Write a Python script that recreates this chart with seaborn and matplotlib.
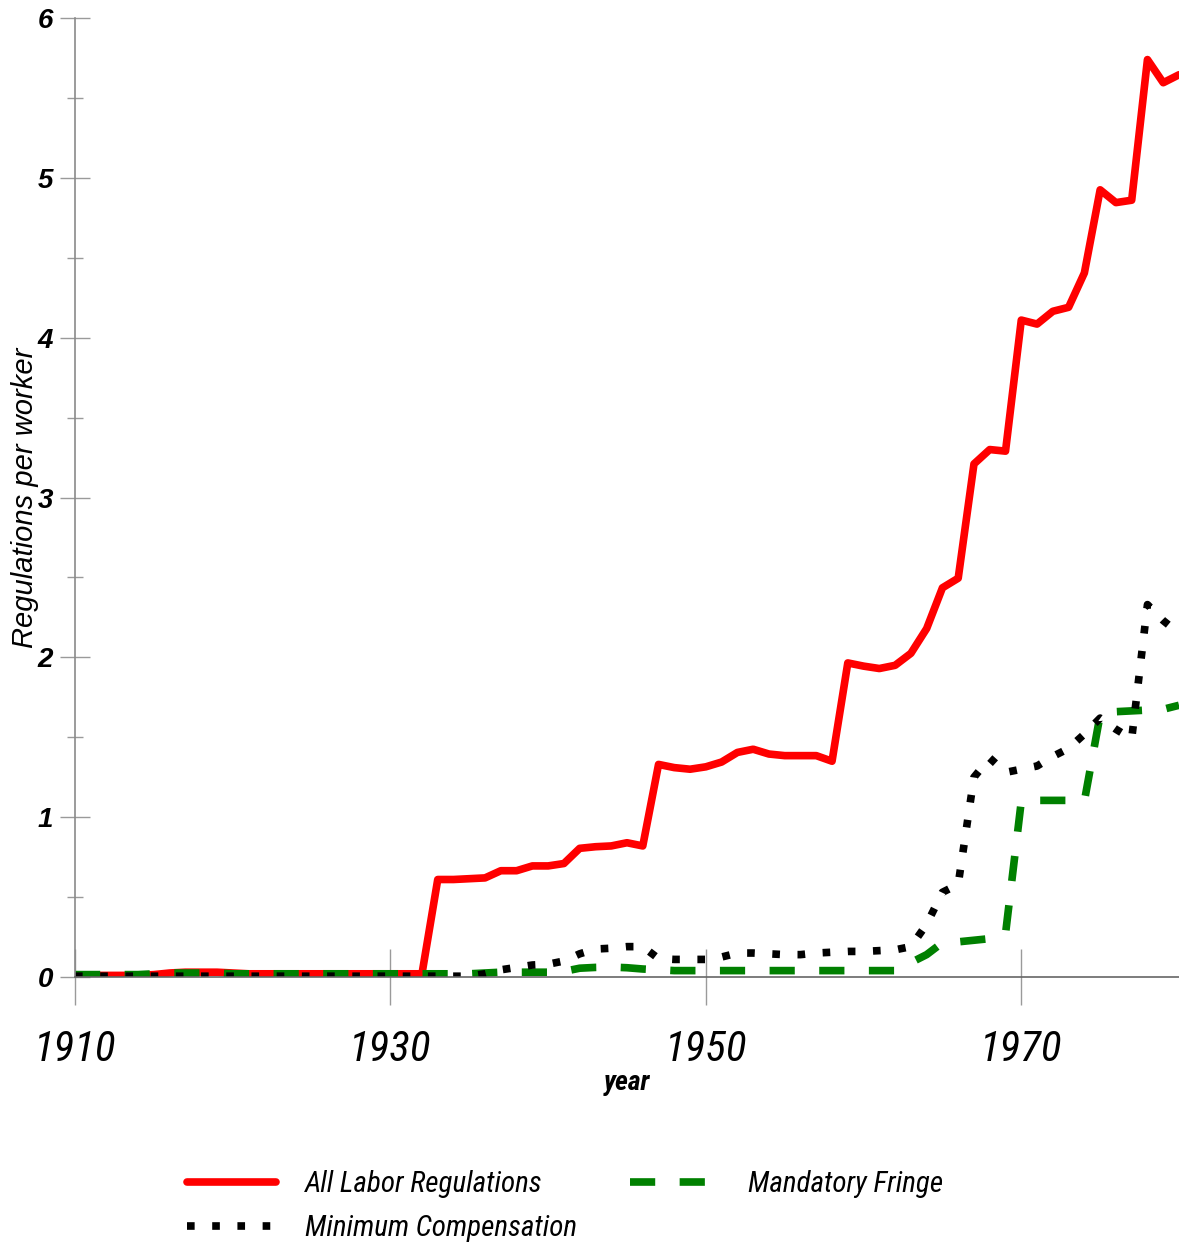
import numpy as np
import pandas as pd
import matplotlib
matplotlib.use("Agg")
import matplotlib.pyplot as plt
from matplotlib import font_manager as fm
from matplotlib.ticker import MultipleLocator, FixedLocator
import seaborn as sns

years = list(range(1910, 1981))

all_labor = [0.01, 0.01, 0.01, 0.01, 0.01, 0.015, 0.025, 0.03, 0.03, 0.03, 0.025,
             0.02, 0.02, 0.02, 0.02, 0.02, 0.02, 0.02, 0.02, 0.02, 0.02, 0.02, 0.02,
             0.61, 0.61, 0.615, 0.62, 0.665, 0.665, 0.695, 0.695, 0.71, 0.805, 0.815,
             0.82, 0.84, 0.82, 1.33, 1.31, 1.30, 1.315, 1.345, 1.405, 1.425, 1.395,
             1.385, 1.385, 1.385, 1.35, 1.965, 1.945, 1.93, 1.95, 2.025, 2.18, 2.435,
             2.495, 3.21, 3.30, 3.29, 4.11, 4.085, 4.165, 4.19, 4.405, 4.925, 4.845,
             4.86, 5.74, 5.595, 5.645]

min_comp = [0.005] * 26 + [0.02, 0.045, 0.06, 0.075, 0.08, 0.10, 0.145, 0.175, 0.18,
             0.19, 0.19, 0.115, 0.11, 0.11, 0.11, 0.125, 0.15, 0.15, 0.145, 0.14,
             0.14, 0.15, 0.155, 0.16, 0.16, 0.165, 0.17, 0.19, 0.33, 0.53, 0.58,
             1.25, 1.37, 1.28, 1.30, 1.32, 1.38, 1.43, 1.52, 1.62, 1.55, 1.49, 2.33,
             2.23, 2.15]

fringe = [0.015, 0.015, 0.015, 0.015, 0.015, 0.02, 0.025, 0.025, 0.025, 0.025] + \
         [0.02] * 16 + [0.025, 0.03, 0.03, 0.03, 0.03, 0.035, 0.055, 0.06, 0.062,
         0.058, 0.05, 0.045] + [0.04] * 15 + [0.09, 0.14, 0.215, 0.22, 0.23, 0.24,
         0.27, 1.10, 1.105, 1.105, 1.105, 1.10, 1.64, 1.66, 1.665, 1.67, 1.675, 1.70]

labels = ["All Labor Regulations", "Mandatory Fringe", "Minimum Compensation"]
x_ticks = [1910, 1930, 1950, 1970]
y_ticks = [0, 1, 2, 3, 4, 5, 6]

sns.set_theme(style="white")
plt.rcParams["font.family"] = ["Liberation Sans", "DejaVu Sans"]
for k in ["text.color", "axes.labelcolor", "xtick.color", "ytick.color"]:
    plt.rcParams[k] = "black"

# choose a condensed face if one is installed
_names = {f.name for f in fm.fontManager.ttflist}
narrow_family = None
narrow_stretch = "normal"
scale = 1.0
for cand in ["Liberation Sans Narrow", "Arial Narrow", "Roboto Condensed",
             "Open Sans Condensed", "Noto Sans Condensed"]:
    if cand in _names:
        narrow_family = cand
        break
if narrow_family is None:
    if any(f.name == "DejaVu Sans" and f.stretch == "condensed"
           for f in fm.fontManager.ttflist):
        narrow_family = "DejaVu Sans"
        narrow_stretch = "condensed"
        scale = 0.93
    else:
        narrow_family = "Liberation Sans"
        scale = 0.84

def nprops(size, weight="normal"):
    return fm.FontProperties(family=narrow_family, style="italic",
                             stretch=narrow_stretch, weight=weight,
                             size=size * scale)

fig = plt.figure(figsize=(11.79, 12.43), dpi=100)
ax = fig.add_axes([75 / 1179, 266 / 1243, 1104 / 1179, 959 / 1243])

lw = 5.5
sns.lineplot(x=years, y=all_labor, ax=ax, color="#ff0000", lw=lw, label=labels[0],
             legend=False)
sns.lineplot(x=years, y=fringe, ax=ax, color="#008000", lw=lw, label=labels[1],
             legend=False)
sns.lineplot(x=years, y=min_comp, ax=ax, color="#000000", lw=lw, label=labels[2],
             legend=False)
l_red, l_green, l_black = ax.lines[0], ax.lines[1], ax.lines[2]
l_green.set_dashes((3.3, 3.2))
l_green.set_dash_capstyle("butt")
l_black.set_dashes((1.0, 2.3))
l_black.set_dash_capstyle("butt")

ax.set_xlim(1910, 1980)
ax.set_ylim(0, 6)
ax.xaxis.set_major_locator(FixedLocator(x_ticks))
ax.yaxis.set_major_locator(FixedLocator(y_ticks))
ax.yaxis.set_minor_locator(MultipleLocator(0.5))
ax.set_xticklabels([str(v) for v in x_ticks])
ax.set_yticklabels([str(v) for v in y_ticks])

for s in ["top", "right"]:
    ax.spines[s].set_visible(False)
ax.spines["left"].set_color("#8a8a8a")
ax.spines["left"].set_linewidth(1.2)
ax.spines["bottom"].set_color("#666666")
ax.spines["bottom"].set_linewidth(1.2)

ax.tick_params(axis="x", which="major", direction="inout", length=41, width=1,
               color="#9a9a9a", pad=17, bottom=True)
ax.tick_params(axis="y", which="major", direction="inout", length=21.5, width=1,
               color="#9a9a9a", pad=5, left=True)
ax.tick_params(axis="y", which="minor", direction="inout", length=11, width=1,
               color="#9a9a9a", left=True)

for t in ax.get_xticklabels():
    t.set_fontproperties(nprops(31))
    t.set_color("black")
for t in ax.get_yticklabels():
    t.set_fontproperties(fm.FontProperties(family="Liberation Sans", style="italic",
                                           weight="bold", size=20))
    t.set_color("black")

ax.set_xlabel("year", fontproperties=nprops(20, "bold"), color="black")
ax.xaxis.set_label_coords(0.5, -0.096)
ax.set_ylabel("Regulations per worker", fontsize=21, fontstyle="italic",
              color="black")
ax.yaxis.set_label_coords(-0.033, 0.5)

leg_size = 21
handles = [l_red, l_black, l_green]
leg_labels = [labels[0], labels[2], labels[1]]
leg = fig.legend(handles, leg_labels, ncol=2, loc="upper left",
                 bbox_to_anchor=(187 / 1179, 1 - 1170 / 1243), frameon=False,
                 borderpad=0, borderaxespad=0, handlelength=3.05 / scale,
                 handletextpad=1.0 / scale, columnspacing=1.8 / scale,
                 labelspacing=0.55 / scale, prop=nprops(leg_size))
for t in leg.get_texts():
    t.set_color("black")

fig.savefig("out.png", dpi=100)
